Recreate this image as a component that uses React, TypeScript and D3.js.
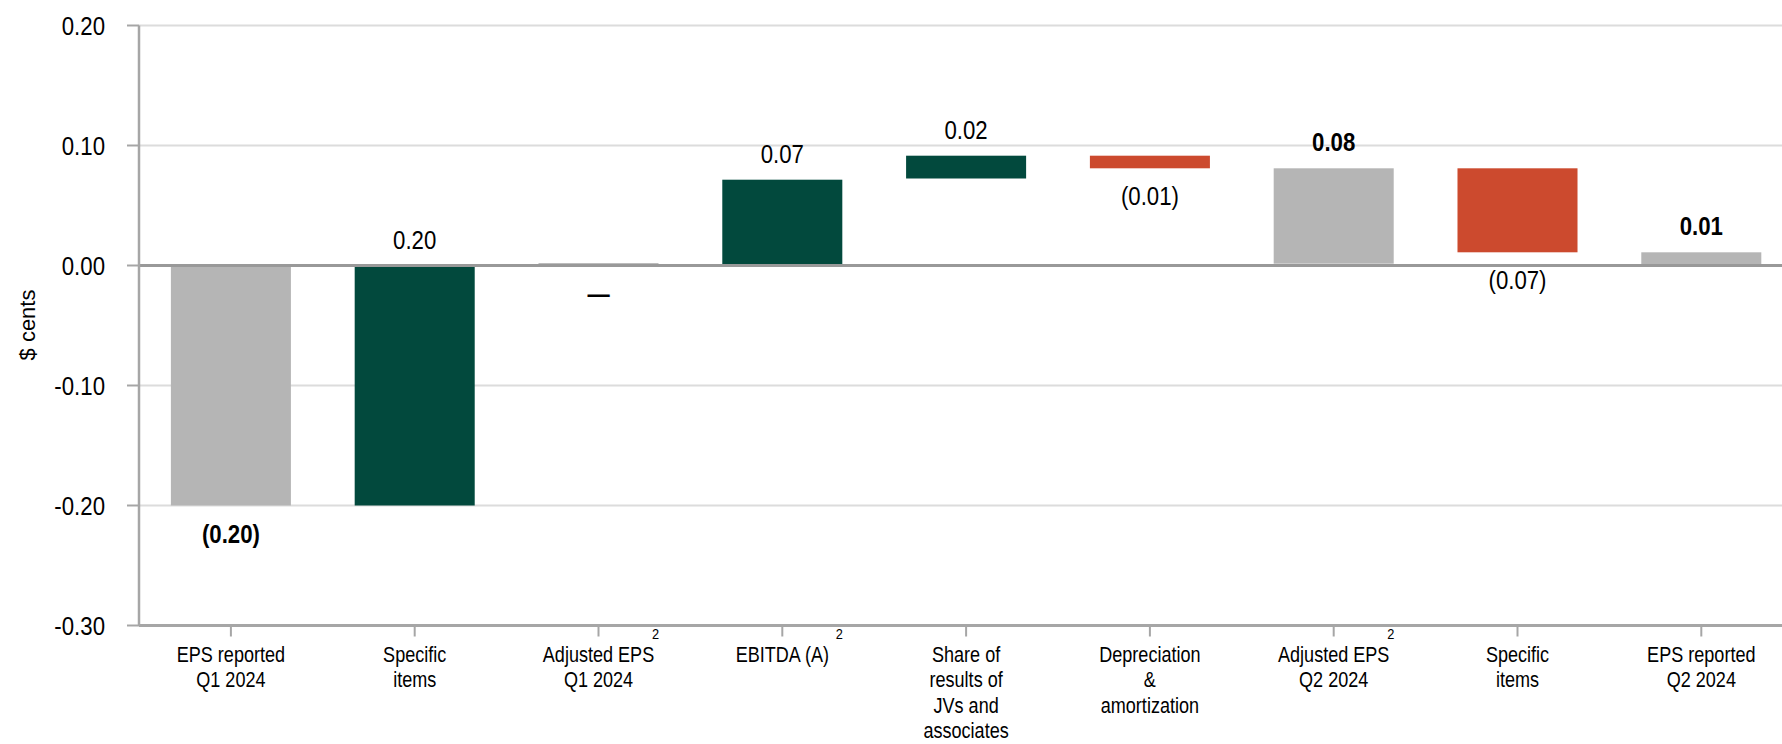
import React from "react";
import * as d3 from "d3";

const categories: string[][] = [
  ["EPS reported", "Q1 2024"],
  ["Specific", "items"],
  ["Adjusted EPS", "Q1 2024"],
  ["EBITDA (A)"],
  ["Share of", "results of", "JVs and", "associates"],
  ["Depreciation", "&", "amortization"],
  ["Adjusted EPS", "Q2 2024"],
  ["Specific", "items"],
  ["EPS reported", "Q2 2024"],
];
const barStart = [0, -0.2, 0, 0, 0.0725, 0.0915, 0.0015, 0.081, 0];
const barEnd = [-0.2, 0, 0.002, 0.0715, 0.0915, 0.081, 0.081, 0.011, 0.011];
const barKind = ["total", "increase", "total", "increase", "increase", "decrease", "total", "decrease", "total"];
const valueLabels = ["(0.20)", "0.20", "\u2014", "0.07", "0.02", "(0.01)", "0.08", "(0.07)", "0.01"];
const labelBold = [true, false, true, false, false, false, true, false, true];
const labelSide = ["below", "above", "below", "above", "above", "below", "above", "below", "above"];
const footnoteMarks = ["", "", "2", "2", "", "", "2", "", ""];
const yTicks = [0.2, 0.1, 0, -0.1, -0.2, -0.3];
const yTickLabels = ["0.20", "0.10", "0.00", "-0.10", "-0.20", "-0.30"];
const yTitle = "$ cents";

const colors: Record<string, string> = {
  total: "#b5b5b5",
  increase: "#02493d",
  decrease: "#cc4a2e",
};

const FONT = "'Liberation Sans', Arial, sans-serif";
const SX = 0.855;

function NText(props: {
  x: number;
  y: number;
  size: number;
  anchor?: string;
  bold?: boolean;
  rotate?: number;
  sx?: number;
  children: React.ReactNode;
}) {
  const { x, y, size, anchor = "middle", bold, rotate, sx = SX, children } = props;
  const tr = rotate
    ? `translate(${x},${y}) rotate(${rotate}) scale(${sx},1)`
    : `translate(${x},${y}) scale(${sx},1)`;
  return (
    <text
      transform={tr}
      textAnchor={anchor}
      fontSize={size}
      fontWeight={bold ? "bold" : "normal"}
      fill="#000"
    >
      {children}
    </text>
  );
}

export default function App() {
  const W = 1782;
  const H = 744;
  const left = 139;
  const top = 25.5;
  const bottom = 625.5;
  const x = d3
    .scaleBand<number>()
    .domain(d3.range(categories.length))
    .range([left, left + 9 * 183.8])
    .paddingInner(0.347)
    .paddingOuter(0.1735);
  const y = d3.scaleLinear().domain([-0.3, 0.2]).range([bottom, top]);
  const bw = x.bandwidth();

  return (
    <svg
      width={W}
      height={H}
      style={{ position: "absolute", left: 0, top: 0, background: "#fff" }}
      fontFamily={FONT}
    >
      {yTicks.map((t, i) =>
        t === 0 || t === -0.3 ? null : (
          <line key={"g" + i} x1={left} x2={W} y1={y(t)} y2={y(t)} stroke="#dcdcdc" strokeWidth={2} />
        )
      )}
      {categories.map((_, i) => {
        const y0 = y(Math.max(barStart[i], barEnd[i]));
        const y1 = y(Math.min(barStart[i], barEnd[i]));
        return (
          <rect
            key={"b" + i}
            x={x(i)}
            y={y0}
            width={bw}
            height={Math.max(1, y1 - y0)}
            fill={colors[barKind[i]]}
          />
        );
      })}
      <line x1={left} x2={W} y1={y(0)} y2={y(0)} stroke="#999999" strokeWidth={3} />
      <line x1={left} x2={left} y1={top} y2={bottom} stroke="#a6a6a6" strokeWidth={2.5} />
      {yTicks.map((t, i) => (
        <g key={"t" + i}>
          <line x1={127} x2={left} y1={y(t)} y2={y(t)} stroke="#a6a6a6" strokeWidth={2} />
          <NText x={105} y={y(t) + 9} size={26} anchor="end">
            {yTickLabels[i]}
          </NText>
        </g>
      ))}
      <line x1={left} x2={W} y1={bottom} y2={bottom} stroke="#a6a6a6" strokeWidth={3} />
      {categories.map((lines, i) => {
        const cx = (x(i) as number) + bw / 2;
        return (
          <g key={"x" + i}>
            <line x1={cx} x2={cx} y1={bottom} y2={bottom + 11} stroke="#a6a6a6" strokeWidth={2} />
            {lines.map((ln, j) => (
              <NText key={j} x={cx} y={661.5 + j * 25.6} size={21.5} sx={0.84}>
                {ln}
              </NText>
            ))}
            {footnoteMarks[i] ? (
              <NText x={cx + 57} y={bottom + 13} size={15}>
                {footnoteMarks[i]}
              </NText>
            ) : null}
          </g>
        );
      })}
      {categories.map((_, i) => {
        const cx = (x(i) as number) + bw / 2;
        const hi = Math.max(barStart[i], barEnd[i]);
        const lo = Math.min(barStart[i], barEnd[i]);
        const ly = labelSide[i] === "above" ? y(hi) - 17 : y(lo) + 37;
        return (
          <NText key={"l" + i} x={cx} y={ly} size={26} bold={labelBold[i]}>
            {valueLabels[i]}
          </NText>
        );
      })}
      <NText x={35} y={325} size={22} rotate={-90} sx={1}>
        {yTitle}
      </NText>
    </svg>
  );
}
